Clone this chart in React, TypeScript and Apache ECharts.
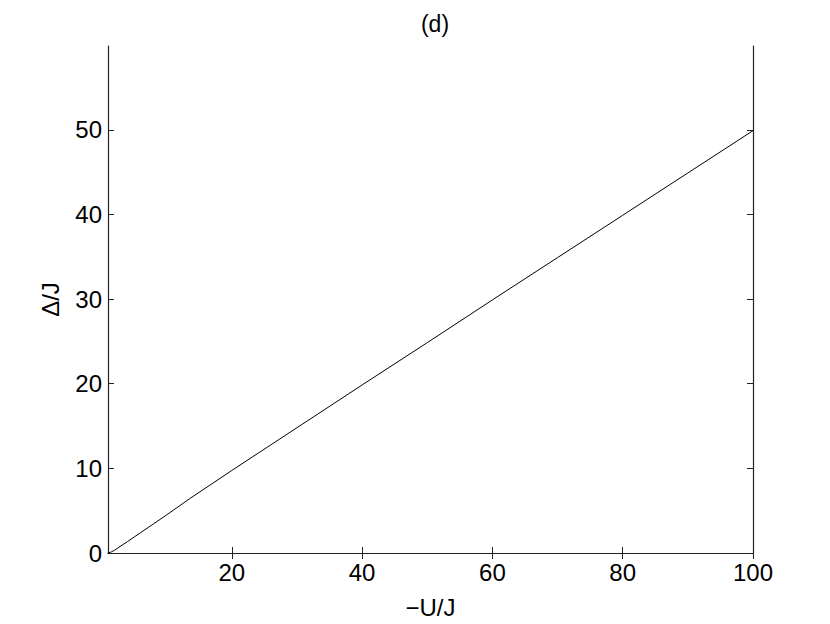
import React, { useEffect, useRef } from "react";
import * as echarts from "echarts";

const uValues = [1, 1.5, 2, 2.5, 3, 4, 5, 6, 8, 10, 13.5, 20, 30, 40, 50, 60, 70, 80, 90, 100];
const deltaValues = [0, 0.12, 0.33, 0.58, 0.85, 1.35, 1.88, 2.4, 3.45, 4.5, 6.4, 9.75, 14.8, 19.85, 24.85, 29.9, 34.9, 39.9, 44.9, 49.9];
const xTicks = [20, 40, 60, 80, 100];
const yTicks = [0, 10, 20, 30, 40, 50];
const titleText = "(d)";
const xName = "\u2212U/J";
const yName = "\u0394/J";

export default function App() {
  const ref = useRef<HTMLDivElement>(null);
  useEffect(() => {
    document.body.style.margin = "0";
    const chart = echarts.init(ref.current!, null, { renderer: "svg" });
    const font = "Liberation Sans, Arial, Helvetica, sans-serif";
    const axisLine = { show: true, lineStyle: { color: "#222", width: 1.2 } };
    chart.setOption({
      animation: false,
      backgroundColor: "#fff",
      title: {
        text: titleText,
        left: 430,
        top: 7,
        textAlign: "center",
        textStyle: { fontFamily: font, fontSize: 23, fontWeight: "normal", color: "#000" },
      },
      grid: { left: 108, right: 77, top: 46, bottom: 70, containLabel: false },
      xAxis: [
        {
          type: "value",
          min: 1,
          max: 100,
          position: "bottom",
          name: xName,
          nameLocation: "middle",
          nameGap: 42,
          nameTextStyle: { fontFamily: font, fontSize: 24, color: "#000" },
          axisLine,
          axisTick: { show: true, inside: true, length: 6, customValues: xTicks, lineStyle: { color: "#222" } },
          axisLabel: { show: true, customValues: xTicks, fontFamily: font, fontSize: 24, color: "#000", margin: 7 },
          splitLine: { show: false },
        },
        {
          type: "value",
          min: 1,
          max: 100,
          position: "top",
          axisLine,
          axisTick: { show: true, inside: true, length: 6, customValues: xTicks, lineStyle: { color: "#222" } },
          axisLabel: { show: false },
          splitLine: { show: false },
        },
      ],
      yAxis: [
        {
          type: "value",
          min: 0,
          max: 59.9,
          position: "left",
          name: yName,
          nameLocation: "middle",
          nameGap: 46,
          nameRotate: 90,
          nameTextStyle: { fontFamily: font, fontSize: 24, color: "#000" },
          axisLine,
          axisTick: { show: true, inside: true, length: 6, customValues: yTicks, lineStyle: { color: "#222" } },
          axisLabel: { show: true, customValues: yTicks, fontFamily: font, fontSize: 24, color: "#000", margin: 6 },
          splitLine: { show: false },
        },
        {
          type: "value",
          min: 0,
          max: 59.9,
          position: "right",
          axisLine,
          axisTick: { show: true, inside: true, length: 6, customValues: yTicks, lineStyle: { color: "#222" } },
          axisLabel: { show: false },
          splitLine: { show: false },
        },
      ],
      series: [
        {
          type: "line",
          xAxisIndex: 0,
          yAxisIndex: 0,
          data: uValues.map((u, i) => [u, deltaValues[i]]),
          showSymbol: false,
          symbol: "none",
          lineStyle: { color: "#000", width: 1 },
        },
      ],
    });
    return () => chart.dispose();
  }, []);
  return <div ref={ref} style={{ width: 830, height: 624 }} />;
}
